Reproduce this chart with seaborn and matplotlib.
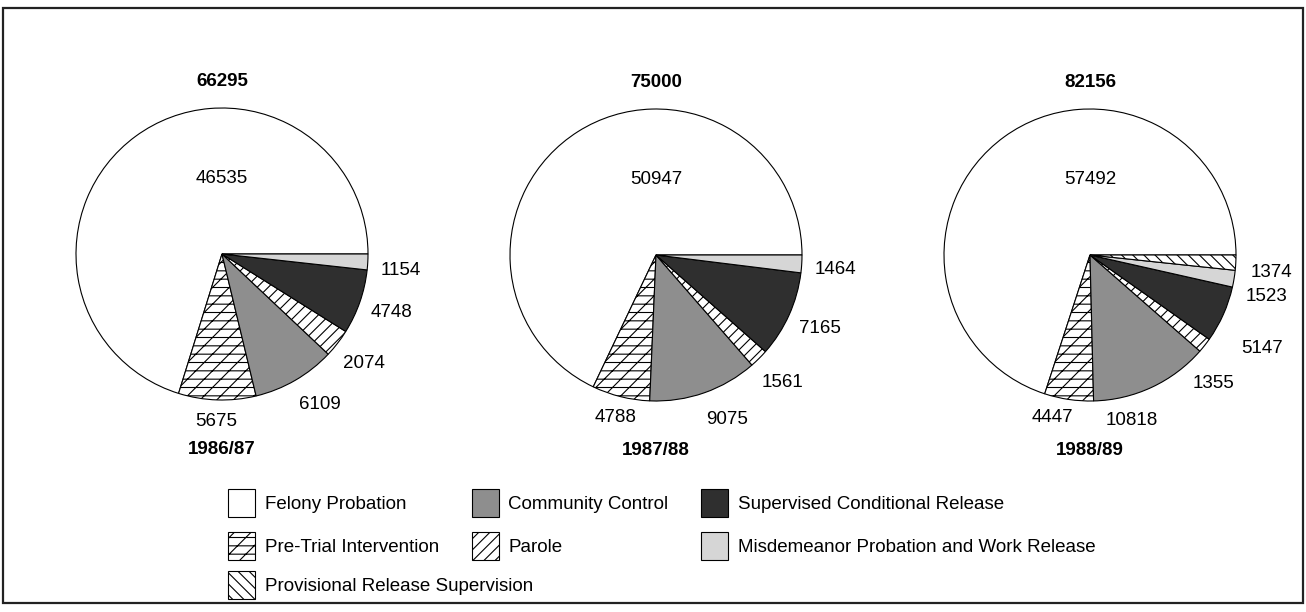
"""Caseload by supervision type, three fiscal years, as pies."""

import numpy as np
import pandas as pd
import matplotlib.pyplot as plt
import seaborn as sns
from matplotlib.patches import Rectangle

categories = ['Felony Probation', 'Pre-Trial Intervention', 'Community Control', 'Parole',
              'Supervised Conditional Release', 'Misdemeanor Probation and Work Release',
              'Provisional Release Supervision']
years = ['1986/87', '1987/88', '1988/89']
counts_1986 = [46535, 5675, 6109, 2074, 4748, 1154, 0]
counts_1987 = [50947, 4788, 9075, 1561, 7165, 1464, 0]
counts_1988 = [57492, 4447, 10818, 1355, 5147, 1523, 1374]

df = pd.DataFrame({'category': categories * 3,
                   'year': np.repeat(years, len(categories)),
                   'count': counts_1986 + counts_1987 + counts_1988})

# look of each category
face = ['white', 'white', '#8e8e8e', 'white', '#2f2f2f', '#d6d6d6', 'white']
hatch = ['', '--//', '', '///', '', '', '\\\\\\']

# layout (pixels, y measured from bottom)
W, H = 1306, 612
R = 146
FS = 13.5
centers = [(222, 358), (656, 357), (1090, 357)]
# label angle nudges / radius factors per pie
nudge = {0: {2: 3, 5: -2},
         1: {2: 4, 5: -1},
         2: {1: -4.7, 2: -11, 3: -7.8, 4: -4.5, 5: -3.9, 6: -2.6}}
dist = {2: {1: 1.14, 2: 1.17, 3: 1.22, 4: 1.34, 5: 1.24, 6: 1.25}}

sns.set_theme(style='white', rc={'figure.figsize': (W / 100, H / 100),
                                 'text.color': 'black'})
plt.rcParams['font.family'] = ['Liberation Sans', 'DejaVu Sans']
plt.rcParams['hatch.color'] = 'black'
plt.rcParams['hatch.linewidth'] = 0.8

fig = plt.figure(dpi=100)
ax = fig.add_axes([0, 0, 1, 1])

wedges_all = None
for i, yr in enumerate(years):
    sub = df[(df['year'] == yr) & (df['count'] > 0)]
    idx = [categories.index(c) for c in sub['category']]
    cx, cy = centers[i]
    wedges, _ = ax.pie(sub['count'], center=(cx, cy), radius=R, startangle=0,
                       counterclock=True, colors=[face[k] for k in idx],
                       hatch=[hatch[k] for k in idx],
                       wedgeprops={'edgecolor': 'black', 'linewidth': 0.8})
    for w, k in zip(wedges, idx):
        w.set_label(categories[k])
    if i == 2:
        wedges_all = wedges

    for w, k, v in zip(wedges, idx, sub['count']):
        if k == 0:
            ax.text(cx, cy + 0.52 * R, f'{v}', ha='center', va='center', fontsize=FS)
            continue
        theta = (w.theta1 + w.theta2) / 2 + nudge.get(i, {}).get(k, 0)
        f = dist.get(i, {}).get(k, 1.15 if k == 1 else 1.23)
        t = np.deg2rad(theta)
        ax.text(cx + f * R * np.cos(t), cy + f * R * np.sin(t), f'{v}',
                ha='center', va='center', fontsize=FS)

    ax.text(cx, cy + 1.18 * R, f"{sub['count'].sum()}", ha='center', va='center',
            fontsize=FS, fontweight='bold')
    ax.text(cx, cy - 1.34 * R, yr, ha='center', va='center',
            fontsize=FS, fontweight='bold')

ax.set_xlim(0, W)
ax.set_ylim(0, H)
ax.set_aspect('auto')
ax.axis('off')

leg_kw = dict(loc='upper left', frameon=False, fontsize=FS, borderpad=0, borderaxespad=0,
              handlelength=1.45, handleheight=1.92, handletextpad=0.5,
              columnspacing=1.75, labelspacing=0.78)
order = [0, 1, 2, 3, 4, 5]
fig.legend([wedges_all[j] for j in order], [categories[j] for j in order],
           ncol=3, bbox_to_anchor=(228 / W, 1 - 489 / H), **leg_kw)
fig.legend([wedges_all[6]], [categories[6]], ncol=1,
           bbox_to_anchor=(228 / W, 1 - 571 / H), **leg_kw)

fig.patches.append(Rectangle((3 / W, 9 / H), 1300 / W, 595 / H, transform=fig.transFigure,
                             fill=False, edgecolor='#222222', linewidth=1.6))

fig.savefig('out.png', dpi=100)
